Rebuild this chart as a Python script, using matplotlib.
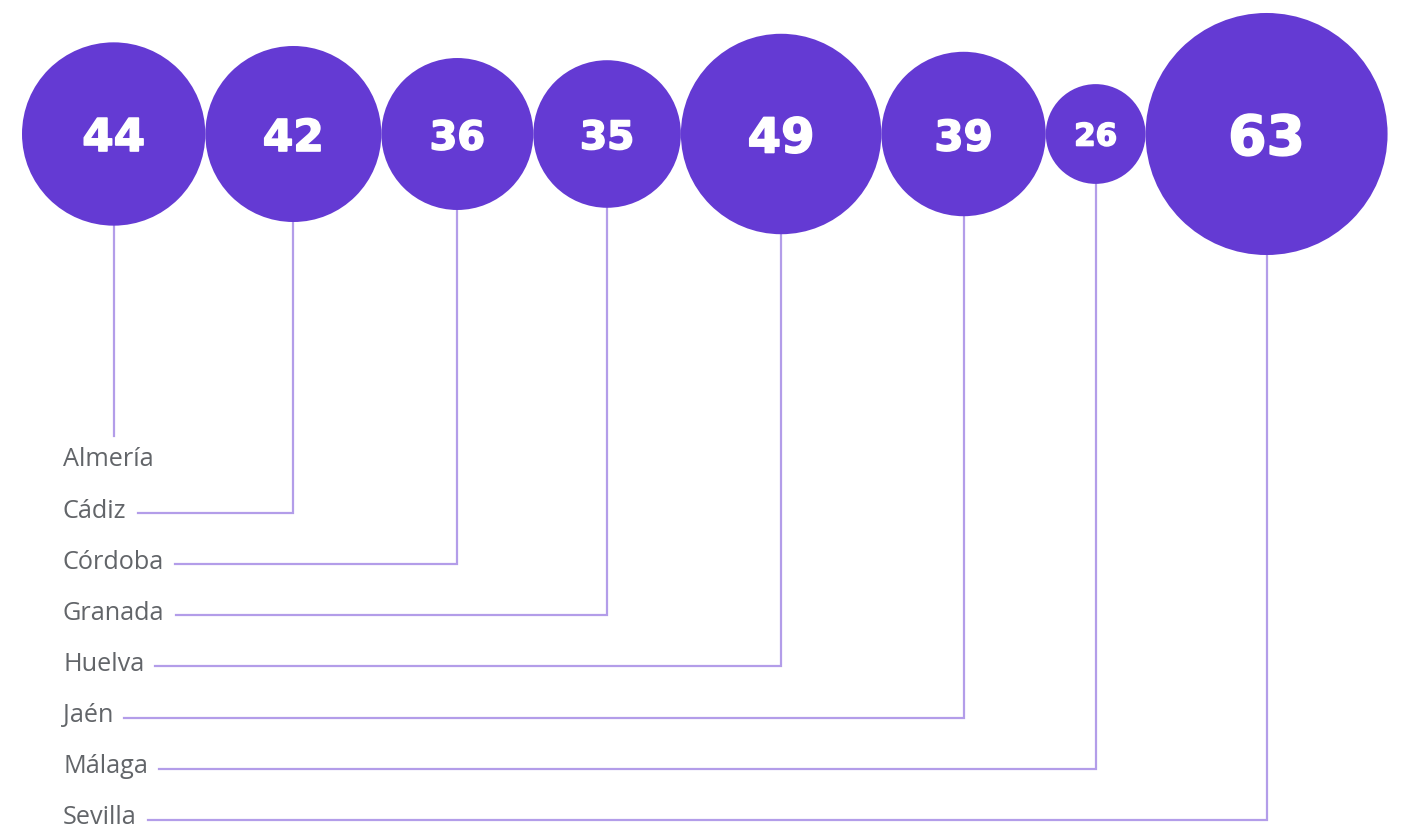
import matplotlib
matplotlib.use("Agg")
import matplotlib.pyplot as plt
import matplotlib.patheffects as pe
from matplotlib.patches import Circle
import numpy as np

provincias = ["Almería", "Cádiz", "Córdoba", "Granada", "Huelva", "Jaén", "Málaga", "Sevilla"]
valores = [44, 42, 36, 35, 49, 39, 26, 63]

morado = "#643ad3"
linea = "#b39de9"
gris = "#626569"

W, H = 1421, 826
fig = plt.figure(figsize=(W / 100, H / 100), dpi=100)
ax = fig.add_axes([0, 0, 1, 1])
ax.set_xlim(0, W)
ax.set_ylim(H, 0)
ax.set_aspect("equal")
ax.axis("off")

cy = 134
x0 = 22
fila0 = 460
paso = 51.1

fig.canvas.draw()
renderer = fig.canvas.get_renderer()

x = x0
for i, (nombre, v) in enumerate(zip(provincias, valores)):
    # radio en pixeles (escala tipo raiz)
    r = np.sqrt(328.6 * v - 6056)
    cx = x + r
    x += 2 * r
    ax.add_patch(Circle((cx, cy), r, color=morado, lw=0, zorder=3))
    h = 0.25 * r + 10
    fs = h / 0.729 * 0.72
    ax.text(cx, cy, str(v), color="white", fontsize=fs, fontweight="bold",
            family="DejaVu Sans", ha="center", va="center_baseline", zorder=4,
            path_effects=[pe.withStroke(linewidth=1.2, foreground="white")])

    ty = fila0 + paso * i
    t = ax.text(63, ty, nombre, color=gris, fontsize=18.2, family="Open Sans",
                ha="left", va="center", zorder=4)
    ly = ty + 2
    if i == 0:
        ax.plot([cx, cx], [cy + r, 436], color=linea, lw=1.6, zorder=2)
    else:
        bb = t.get_window_extent(renderer=renderer)
        xa = ax.transData.inverted().transform((bb.x1, bb.y0))[0] + 11
        ax.plot([xa, cx, cx], [ly, ly, cy + r], color=linea, lw=1.6, zorder=2,
                solid_joinstyle="miter")

fig.savefig("out.png", dpi=100)
